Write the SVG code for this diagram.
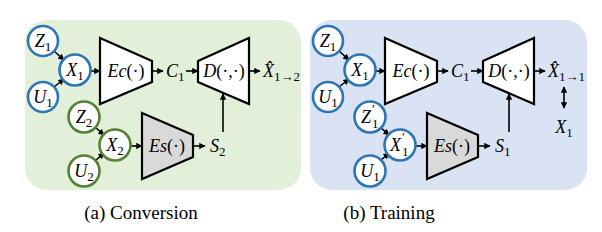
<svg xmlns="http://www.w3.org/2000/svg" width="602" height="232" viewBox="0 0 602 232">
<defs>
<style>
.bg{stroke:none}
.cb{fill:#fff;stroke:#2e75b6;stroke-width:2.6}
.cg{fill:#fff;stroke:#548235;stroke-width:2.6}
.trap{fill:#fff;stroke:#000;stroke-width:2.2;stroke-linejoin:miter}
.grey{fill:#d9d9d9}
.m{font-family:"Liberation Serif","DejaVu Serif",serif;font-style:italic;font-size:18px;fill:#000}
.u{font-style:normal}
.s{font-size:13px;font-style:normal}
.cap{font-family:"Liberation Serif","Times New Roman",serif;font-size:19px;fill:#000}
.ln{stroke:#000;stroke-width:1.6;fill:none;marker-end:url(#ah)}
.dl{stroke:#000;stroke-width:1.6;fill:none;marker-end:url(#ah);marker-start:url(#ahs)}
</style>
<marker id="ah" viewBox="0 0 10 10" refX="9" refY="5" markerWidth="4" markerHeight="4" orient="auto" markerUnits="strokeWidth">
<path d="M0,0 L10,5 L0,10 z" fill="#000"/>
</marker>
<marker id="ahs" viewBox="0 0 10 10" refX="1" refY="5" markerWidth="4" markerHeight="4" orient="auto" markerUnits="strokeWidth">
<path d="M10,0 L0,5 L10,10 z" fill="#000"/>
</marker>
</defs>

<rect id="panel-a" class="bg" x="25" y="20" width="276" height="170" rx="22" fill="#e2f0d9"/>
<rect id="panel-b" class="bg" x="310" y="20" width="277" height="170" rx="22" fill="#dae3f3"/>

<g id="connectors">
<line class="ln" x1="54" y1="51" x2="64" y2="60"/>
<line class="ln" x1="54" y1="87" x2="64" y2="79"/>
<line class="ln" x1="91" y1="71" x2="100" y2="71"/>
<line class="ln" x1="152" y1="71" x2="163" y2="71"/>
<line class="ln" x1="186" y1="71" x2="198" y2="71"/>
<line class="ln" x1="249" y1="71" x2="260" y2="71"/>
<line class="ln" x1="95" y1="127" x2="104" y2="135"/>
<line class="ln" x1="95" y1="161" x2="104" y2="153"/>
<line class="ln" x1="131" y1="146" x2="142" y2="146"/>
<line class="ln" x1="193" y1="146" x2="205" y2="146"/>
<line class="ln" x1="223" y1="132" x2="223" y2="94"/>

<line class="ln" x1="339" y1="51" x2="349" y2="60"/>
<line class="ln" x1="339" y1="87" x2="349" y2="79"/>
<line class="ln" x1="376" y1="71" x2="385" y2="71"/>
<line class="ln" x1="437" y1="71" x2="448" y2="71"/>
<line class="ln" x1="471" y1="71" x2="483" y2="71"/>
<line class="ln" x1="534" y1="71" x2="545" y2="71"/>
<line class="ln" x1="380" y1="127" x2="389" y2="135"/>
<line class="ln" x1="380" y1="161" x2="389" y2="153"/>
<line class="ln" x1="416" y1="146" x2="427" y2="146"/>
<line class="ln" x1="478" y1="146" x2="490" y2="146"/>
<line class="ln" x1="509" y1="132" x2="509" y2="94"/>
<line class="dl" x1="564" y1="87" x2="564" y2="108"/>
</g>

<g id="Z1a"><circle class="cb" cx="43" cy="41" r="15"/><text class="m" x="43" y="47" text-anchor="middle">Z<tspan class="s" dy="4">1</tspan></text></g>
<g id="X1a"><circle class="cb" cx="75" cy="70" r="15.5"/><text class="m" x="75" y="76" text-anchor="middle">X<tspan class="s" dy="4">1</tspan></text></g>
<g id="U1a"><circle class="cb" cx="43" cy="97" r="15"/><text class="m" x="43" y="103" text-anchor="middle">U<tspan class="s" dy="4">1</tspan></text></g>
<g id="Z2a"><circle class="cg" cx="84" cy="117" r="15.5"/><text class="m" x="84" y="123" text-anchor="middle">Z<tspan class="s" dy="4">2</tspan></text></g>
<g id="X2a"><circle class="cg" cx="115" cy="145" r="15.5"/><text class="m" x="115" y="151" text-anchor="middle">X<tspan class="s" dy="4">2</tspan></text></g>
<g id="U2a"><circle class="cg" cx="84" cy="171" r="15.5"/><text class="m" x="84" y="177" text-anchor="middle">U<tspan class="s" dy="4">2</tspan></text></g>

<g id="Eca"><polygon class="trap" points="100,38 152,61 152,82 100,104"/><text class="m" x="126" y="77" text-anchor="middle">Ec<tspan class="u">(·)</tspan></text></g>
<g id="C1a"><text class="m" x="166" y="77">C<tspan class="s" dy="4">1</tspan></text></g>
<g id="Da"><polygon class="trap" points="198,61 249,38 249,104 198,82"/><text class="m" x="224" y="77" text-anchor="middle">D<tspan class="u">(·,·)</tspan></text></g>
<g id="Xhata"><text class="m" x="263" y="77">X̂<tspan class="s" dy="4">1→2</tspan></text></g>
<g id="Esa"><polygon class="trap grey" points="142,113 193,135 193,157 142,179"/><text class="m" x="167" y="152" text-anchor="middle">Es<tspan class="u">(·)</tspan></text></g>
<g id="S2a"><text class="m" x="210" y="152">S<tspan class="s" dy="4">2</tspan></text></g>

<g id="Z1b"><circle class="cb" cx="328" cy="41" r="15"/><text class="m" x="328" y="47" text-anchor="middle">Z<tspan class="s" dy="4">1</tspan></text></g>
<g id="X1b"><circle class="cb" cx="360" cy="70" r="15.5"/><text class="m" x="360" y="76" text-anchor="middle">X<tspan class="s" dy="4">1</tspan></text></g>
<g id="U1b"><circle class="cb" cx="328" cy="97" r="15"/><text class="m" x="328" y="103" text-anchor="middle">U<tspan class="s" dy="4">1</tspan></text></g>
<g id="Z1pb"><circle class="cb" cx="370" cy="117" r="15.5"/><text class="m" x="361" y="123">Z<tspan class="s" dx="1" dy="-10">′</tspan></text><text class="m s" x="372" y="128">1</text></g>
<g id="X1pb"><circle class="cb" cx="400" cy="145" r="15.5"/><text class="m" x="390" y="151">X<tspan class="s" dx="1" dy="-10">′</tspan></text><text class="m s" x="402" y="156">1</text></g>
<g id="U1pb"><circle class="cb" cx="370" cy="171" r="15.5"/><text class="m" x="370" y="177" text-anchor="middle">U<tspan class="s" dy="4">1</tspan></text></g>

<g id="Ecb"><polygon class="trap" points="385,38 437,61 437,82 385,104"/><text class="m" x="411" y="77" text-anchor="middle">Ec<tspan class="u">(·)</tspan></text></g>
<g id="C1b"><text class="m" x="451" y="77">C<tspan class="s" dy="4">1</tspan></text></g>
<g id="Db"><polygon class="trap" points="483,61 534,38 534,104 483,82"/><text class="m" x="509" y="77" text-anchor="middle">D<tspan class="u">(·,·)</tspan></text></g>
<g id="Xhatb"><text class="m" x="548" y="77">X̂<tspan class="s" dy="4">1→1</tspan></text></g>
<g id="X1t"><text class="m" x="564" y="133" text-anchor="middle">X<tspan class="s" dy="4">1</tspan></text></g>
<g id="Esb"><polygon class="trap grey" points="427,113 478,135 478,157 427,179"/><text class="m" x="452" y="152" text-anchor="middle">Es<tspan class="u">(·)</tspan></text></g>
<g id="S1b"><text class="m" x="495" y="152">S<tspan class="s" dy="4">1</tspan></text></g>

<text class="cap" x="141" y="219" text-anchor="middle">(a) Conversion</text>
<text class="cap" x="389" y="219" text-anchor="middle">(b) Training</text>
</svg>
